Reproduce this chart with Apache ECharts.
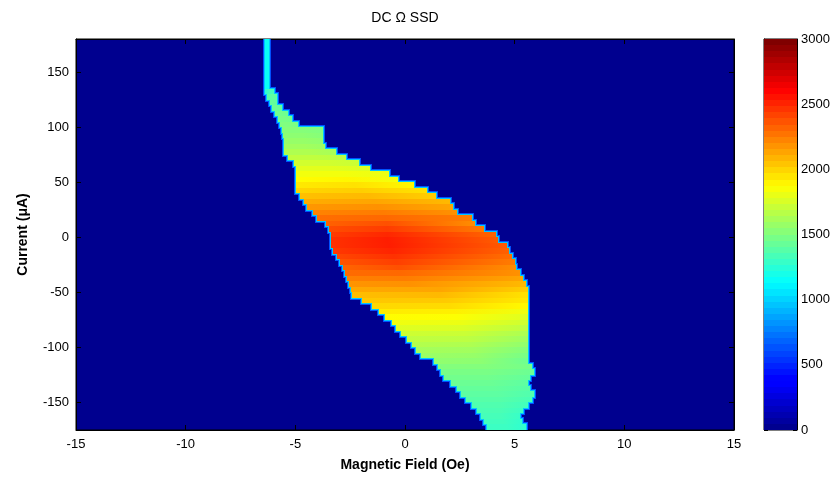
<!DOCTYPE html>
<html>
<head>
<meta charset="utf-8">
<script src="https://cdn.jsdelivr.net/npm/echarts@6.0.0/dist/echarts.min.js"></script>
<style>html,body{margin:0;padding:0;background:#fff}#chart{width:838px;height:477px}</style>
</head>
<body>
<div id="chart"></div>
<script>
// ---- axes / ticks ----
const fieldRange = [-15, 15];
const fieldTicks = [-15, -10, -5, 0, 5, 10, 15];
const currentRange = [-175, 180];
const currentTicks = [-150, -100, -50, 0, 50, 100, 150];
const ssdRange = [0, 3000];
const ssdTicks = [0, 500, 1000, 1500, 2000, 2500, 3000];

// ---- data: one row per current step (µA), with the field span (Oe) of the non-zero region ----
const rowCurrents = [177.5,172.5,167.5,162.5,157.5,152.5,147.5,142.5,137.5,132.5,
  127.5,122.5,117.5,112.5,107.5,102.5,97.5,92.5,87.5,82.5,
  77.5,72.5,67.5,62.5,57.5,52.5,47.5,42.5,37.5,32.5,
  27.5,22.5,17.5,12.5,7.5,2.5,-2.5,-7.5,-12.5,-17.5,
  -22.5,-27.5,-32.5,-37.5,-42.5,-47.5,-52.5,-57.5,-62.5,-67.5,
  -72.5,-77.5,-82.5,-87.5,-92.5,-97.5,-102.5,-107.5,-112.5,-117.5,
  -122.5,-127.5,-132.5,-137.5,-142.5,-147.5,-152.5,-157.5,-162.5,-167.5,
  -172.5];
const leftEdge = [-6.39,-6.39,-6.39,-6.39,-6.39,-6.39,-6.39,-6.39,-6.39,-6.39,
  -6.30,-6.15,-6.05,-5.92,-5.80,-5.70,-5.60,-5.55,-5.50,-5.50,
  -5.50,-5.35,-5.05,-4.95,-4.95,-4.95,-4.95,-4.95,-4.80,-4.60,
  -4.45,-4.20,-4.00,-3.60,-3.45,-3.38,-3.38,-3.36,-3.30,-3.10,
  -2.95,-2.82,-2.75,-2.65,-2.55,-2.45,-2.40,-1.95,-1.50,-1.20,
  -0.90,-0.60,-0.40,-0.20,0.10,0.30,0.50,0.75,1.30,1.50,
  1.65,1.80,2.10,2.35,2.55,2.80,3.05,3.30,3.45,3.60,
  3.75];
const rightEdge = [-6.19,-6.19,-6.19,-6.19,-6.19,-6.19,-6.19,-6.19,-6.19,-5.95,
  -5.85,-5.82,-5.60,-5.35,-5.15,-4.90,-3.75,-3.72,-3.72,-3.65,
  -3.15,-2.70,-2.10,-1.60,-0.75,-0.30,0.40,1.00,1.40,2.05,
  2.20,2.35,3.05,3.20,3.60,4.15,4.25,4.65,4.75,4.90,
  5.00,5.05,5.25,5.40,5.50,5.60,5.60,5.60,5.60,5.60,
  5.60,5.60,5.60,5.60,5.60,5.60,5.60,5.60,5.60,5.80,
  5.90,5.70,5.60,5.70,5.90,5.80,5.60,5.40,5.25,5.35,
  5.50];
// field (Oe) where the middle value sits; null = centre of the row's span
const midField = [null,null,null,null,null,null,null,null,null,null,
  null,null,null,null,null,null,null,null,null,null,
  null,null,null,null,null,null,null,null,-1.7,-1.4,
  -1.2,-1.0,-0.9,-0.8,-0.8,-0.8,-0.8,-0.7,-0.6,-0.5,
  -0.4,-0.3,-0.2,0.0,0.2,null,null,null,null,null,
  null,null,null,null,null,null,null,null,null,null,
  null,null,null,null,null,null,null,null,null,null,
  null];
// SSD value at the left end, middle and right end of each row
const leftValue = [1150,1150,1150,1150,1150,1150,1150,1150,1150,1250,
  1380,1420,1440,1460,1480,1500,1520,1540,1570,1600,
  1640,1690,1740,1790,1840,1880,1940,2000,2060,2120,
  2180,2240,2300,2340,2400,2450,2480,2480,2460,2420,
  2380,2330,2310,2250,2190,2130,2070,2040,1990,1930,
  1880,1830,1780,1730,1690,1650,1610,1580,1550,1510,
  1480,1460,1440,1420,1400,1380,1360,1345,1330,1315,
  1300];
const midValue = [1150,1150,1150,1150,1150,1150,1150,1150,1150,1330,
  1400,1420,1440,1460,1480,1500,1520,1540,1570,1600,
  1640,1690,1740,1790,1840,1900,1960,2020,2080,2140,
  2200,2260,2320,2390,2450,2510,2540,2540,2520,2480,
  2440,2390,2320,2260,2200,2140,2080,2030,1980,1920,
  1870,1820,1770,1720,1680,1640,1600,1570,1540,1510,
  1480,1460,1440,1420,1400,1380,1360,1345,1330,1315,
  1300];
const rightValue = [1150,1150,1150,1150,1150,1150,1150,1150,1150,1330,
  1400,1400,1420,1440,1460,1480,1500,1520,1550,1580,
  1620,1670,1720,1770,1820,1840,1900,1960,2020,2080,
  2140,2200,2260,2210,2270,2330,2360,2360,2340,2300,
  2260,2210,2200,2140,2080,2020,1960,1940,1890,1830,
  1780,1730,1680,1630,1590,1550,1510,1480,1450,1470,
  1440,1420,1400,1380,1360,1340,1320,1305,1290,1275,
  1260];

// ---- styling helpers ----
const FONT = '"Liberation Sans", Arial, Helvetica, sans-serif';
function clamp01(v) { return Math.max(0, Math.min(1, v)); }
function jetColor(v) {
  const t = clamp01((v - ssdRange[0]) / (ssdRange[1] - ssdRange[0]));
  const r = clamp01(Math.min(4 * t - 1.5, -4 * t + 4.5));
  const g = clamp01(Math.min(4 * t - 0.5, -4 * t + 3.5));
  const b = clamp01(Math.min(4 * t + 0.5625, -4 * t + 2.5));
  const h = x => Math.round(x * 255).toString(16).padStart(2, '0');
  return '#' + h(r) + h(g) + h(b);
}

const rowHalf = (rowCurrents[0] - rowCurrents[1]) / 2;
const rowData = rowCurrents.map((c, i) => [
  leftEdge[i], rightEdge[i], c, leftValue[i], midValue[i], rightValue[i],
  midField[i] === null ? (leftEdge[i] + rightEdge[i]) / 2 : midField[i]
]);

function rowRect(api) {
  const p0 = api.coord([api.value(0), api.value(2) + rowHalf]);
  const p1 = api.coord([api.value(1), api.value(2) - rowHalf]);
  const x0 = Math.round(p0[0]), x1 = Math.round(p1[0]);
  const y0 = Math.round(p0[1]), y1 = Math.round(p1[1]);
  return { x0, x1, y0, y1 };
}
function rimSeries(pad, color, z) {
  return {
    type: 'custom', coordinateSystem: 'cartesian2d', xAxisIndex: 0, yAxisIndex: 0, z: z,
    clip: true, silent: true, encode: { x: [0, 1], y: 2 },
    data: rowData,
    renderItem: function (params, api) {
      const r = rowRect(api);
      return { type: 'rect', shape: { x: r.x0 - pad, y: r.y0 - pad, width: r.x1 - r.x0 + 2 * pad, height: r.y1 - r.y0 + 2 * pad }, style: { fill: color } };
    }
  };
}

// colour bar bands (64 levels like the figure's colormap)
const colorbarBands = [];
for (let i = 0; i < 64; i++) {
  const span = ssdRange[1] - ssdRange[0];
  colorbarBands.push([0, ssdRange[0] + span * i / 64, ssdRange[0] + span * (i + 1) / 64, ssdRange[0] + span * i / 63]);
}

const axisCommon = {
  axisLine: { show: true, onZero: false, lineStyle: { color: '#000', width: 1 } },
  splitLine: { show: false }
};

const chart = echarts.init(document.getElementById('chart'), null, { renderer: 'canvas' });
chart.setOption({
  animation: false,
  backgroundColor: '#ffffff',
  title: {
    text: 'DC Ω SSD', left: 405, top: 11, textAlign: 'center', padding: 0,
    textStyle: { fontFamily: FONT, fontSize: 14, fontWeight: 'normal', color: '#000' }
  },
  grid: [
    { left: 76, top: 39, width: 658, height: 391, show: true, backgroundColor: jetColor(0), borderColor: '#000', borderWidth: 1 },
    { left: 764, top: 39, width: 33, height: 391, show: true, backgroundColor: 'transparent', borderColor: '#000', borderWidth: 1 }
  ],
  xAxis: [
    Object.assign({
      type: 'value', gridIndex: 0, position: 'bottom', min: fieldRange[0], max: fieldRange[1], interval: 5,
      axisTick: { show: true, inside: true, length: 5, lineStyle: { color: '#000' } },
      axisLabel: { color: '#000', fontSize: 13, fontFamily: FONT, margin: 8, formatter: v => String(v) },
      name: 'Magnetic Field (Oe)', nameLocation: 'middle', nameGap: 28,
      nameTextStyle: { fontFamily: FONT, fontSize: 14, fontWeight: 'bold', color: '#000' }
    }, axisCommon),
    Object.assign({
      type: 'value', gridIndex: 0, position: 'top', min: fieldRange[0], max: fieldRange[1], interval: 5,
      axisTick: { show: true, inside: true, length: 5, lineStyle: { color: '#000' } },
      axisLabel: { show: false }
    }, axisCommon),
    { type: 'value', gridIndex: 1, min: 0, max: 1, show: false }
  ],
  yAxis: [
    Object.assign({
      type: 'value', gridIndex: 0, position: 'left', min: currentRange[0], max: currentRange[1],
      axisTick: { show: true, inside: true, length: 5, customValues: currentTicks, lineStyle: { color: '#000' } },
      axisLabel: { color: '#000', fontSize: 13, fontFamily: FONT, margin: 7, customValues: currentTicks, formatter: v => String(v) },
      name: 'Current (μA)', nameLocation: 'middle', nameGap: 46, nameRotate: 90,
      nameTextStyle: { fontFamily: FONT, fontSize: 14, fontWeight: 'bold', color: '#000' }
    }, axisCommon),
    Object.assign({
      type: 'value', gridIndex: 0, position: 'right', min: currentRange[0], max: currentRange[1],
      axisTick: { show: true, inside: true, length: 5, customValues: currentTicks, lineStyle: { color: '#000' } },
      axisLabel: { show: false }
    }, axisCommon),
    Object.assign({
      type: 'value', gridIndex: 1, position: 'right', min: ssdRange[0], max: ssdRange[1], interval: 500,
      axisTick: { show: true, inside: true, length: 4, lineStyle: { color: '#000' } },
      axisLabel: { color: '#000', fontSize: 13, fontFamily: FONT, margin: 4, formatter: v => String(v) }
    }, axisCommon),
    Object.assign({
      type: 'value', gridIndex: 1, position: 'left', min: ssdRange[0], max: ssdRange[1], interval: 500,
      axisTick: { show: true, inside: true, length: 4, lineStyle: { color: '#000' } },
      axisLabel: { show: false }
    }, axisCommon)
  ],
  series: [
    rimSeries(2, '#0050ff', 1),
    rimSeries(1, '#00c8ff', 2),
    {
      type: 'custom', coordinateSystem: 'cartesian2d', xAxisIndex: 0, yAxisIndex: 0, z: 3,
      clip: true, silent: true, encode: { x: [0, 1], y: 2 },
      data: rowData,
      renderItem: function (params, api) {
        const r = rowRect(api);
        const x0 = api.value(0), x1 = api.value(1);
        const off = x1 > x0 ? clamp01((api.value(6) - x0) / (x1 - x0)) : 0.5;
        return {
          type: 'rect',
          shape: { x: r.x0, y: r.y0, width: Math.max(1, r.x1 - r.x0), height: r.y1 - r.y0 },
          style: {
            fill: new echarts.graphic.LinearGradient(0, 0, 1, 0, [
              { offset: 0, color: jetColor(api.value(3)) },
              { offset: off, color: jetColor(api.value(4)) },
              { offset: 1, color: jetColor(api.value(5)) }
            ])
          }
        };
      }
    },
    {
      type: 'custom', coordinateSystem: 'cartesian2d', xAxisIndex: 2, yAxisIndex: 2, z: 3,
      clip: true, silent: true, encode: { x: 0, y: [1, 2] },
      data: colorbarBands,
      renderItem: function (params, api) {
        const p0 = api.coord([0, api.value(2)]);
        const p1 = api.coord([1, api.value(1)]);
        const y0 = Math.round(p0[1]), y1 = Math.round(p1[1]);
        return { type: 'rect', shape: { x: p0[0], y: y0, width: p1[0] - p0[0], height: y1 - y0 }, style: { fill: jetColor(api.value(3)) } };
      }
    }
  ]
});
</script>
</body>
</html>
